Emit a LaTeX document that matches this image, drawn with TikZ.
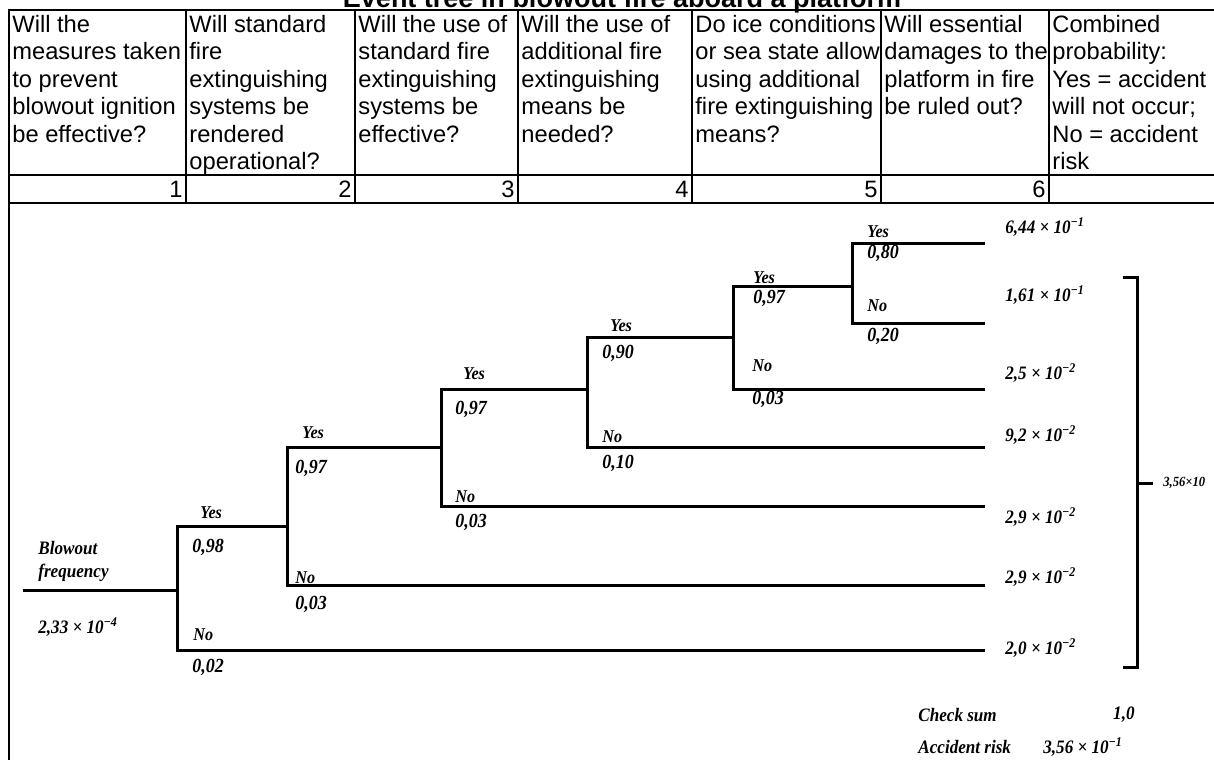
\documentclass[tikz,border=0pt]{standalone}
\usepackage{fontspec}
\setmainfont{Liberation Sans}
\newfontfamily\treefont{Liberation Serif}[FakeStretch=0.9]

\begin{document}
\begin{tikzpicture}[x=0.5pt, y=-0.5pt,
  grid/.style={line width=1pt},
  hdr/.style={anchor=north west, inner sep=0pt, align=left, font=\fontsize{11.85}{13.7}\selectfont},
  num/.style={anchor=base east, inner sep=0pt, font=\fontsize{11.85}{13.7}\selectfont},
  branch/.style={line width=1.5pt},
  ans/.style={anchor=west, inner sep=0pt, font=\treefont\bfseries\itshape\fontsize{9}{10}\selectfont},
  prob/.style={anchor=west, inner sep=0pt, font=\treefont\bfseries\itshape\fontsize{10}{11}\selectfont},
  res/.style={anchor=west, inner sep=0pt, align=left, font=\treefont\bfseries\itshape\fontsize{9.5}{11.5}\selectfont}
]
  \useasboundingbox (0,0) rectangle (1214,760);

  \node[anchor=base, inner sep=0pt, font=\bfseries\fontsize{13.5}{15}\selectfont] (title) at (622,7) {Event tree in blowout fire aboard a platform};

  \draw[grid] (1214,10) -- (9,10) -- (9,760);
  \draw[grid] (9,175) -- (1214,175);
  \draw[grid] (9,203) -- (1214,203);
  \foreach \cx in {186,355,518,692,881,1049}
    \draw[grid] (\cx,10) -- (\cx,203);

  \node[hdr] (q1) at (12,15)   {Will the\\measures taken\\to prevent\\blowout ignition\\be effective?};
  \node[hdr] (q2) at (189,15)  {Will standard\\fire\\extinguishing\\systems be\\rendered\\operational?};
  \node[hdr] (q3) at (358,15)  {Will the use of\\standard fire\\extinguishing\\systems be\\effective?};
  \node[hdr] (q4) at (521,15)  {Will the use of\\additional fire\\extinguishing\\means be\\needed?};
  \node[hdr] (q5) at (695,15)  {Do ice conditions\\or sea state allow\\using additional\\fire extinguishing\\means?};
  \node[hdr] (q6) at (884,15)  {Will essential\\damages to the\\platform in fire\\be ruled out?};
  \node[hdr] (q7) at (1052,15) {Combined\\probability:\\Yes = accident\\will not occur;\\No = accident\\risk};

  \node[num] (c1) at (183,197)  {1};
  \node[num] (c2) at (352,197)  {2};
  \node[num] (c3) at (515,197)  {3};
  \node[num] (c4) at (689,197)  {4};
  \node[num] (c5) at (878,197)  {5};
  \node[num] (c6) at (1046,197) {6};

  \coordinate (root) at (23,590);
  \coordinate (n1) at (177,526); \coordinate (m1) at (177,650);
  \coordinate (n2) at (287,447); \coordinate (m2) at (287,585);
  \coordinate (n3) at (441,389); \coordinate (m3) at (441,506);
  \coordinate (n4) at (587,337); \coordinate (m4) at (587,447);
  \coordinate (n5) at (733,286); \coordinate (m5) at (733,389);
  \coordinate (n6) at (852,243); \coordinate (m6) at (852,323);
  \coordinate (leaf) at (985,0);

  \draw[branch] (root) -- (root -| n1);
  \draw[branch] (n1 -| n2) -- (n1) -- (m1) -- (m1 -| leaf);
  \draw[branch] (n2 -| n3) -- (n2) -- (m2) -- (m2 -| leaf);
  \draw[branch] (n3 -| n4) -- (n3) -- (m3) -- (m3 -| leaf);
  \draw[branch] (n4 -| n5) -- (n4) -- (m4) -- (m4 -| leaf);
  \draw[branch] (n5 -| n6) -- (n5) -- (m5) -- (m5 -| leaf);
  \draw[branch] (n6 -| leaf) -- (n6) -- (m6) -- (m6 -| leaf);

  \node[res] (bf) at (38,561) {Blowout\\frequency};
  \node[res] (bv) at (38,627) {2,33 × 10\textsuperscript{−4}};

  \node[ans]  (y1) at (200,513) {Yes};
  \node[prob] (p1) at (192,547) {0,98};
  \node[ans]  (x1) at (193,635) {No};
  \node[prob] (r1) at (192,667) {0,02};

  \node[ans]  (y2) at (302,433) {Yes};
  \node[prob] (p2) at (295,468) {0,97};
  \node[ans]  (x2) at (295,578) {No};
  \node[prob] (r2) at (295,604) {0,03};

  \node[ans]  (y3) at (463,374) {Yes};
  \node[prob] (p3) at (455,409) {0,97};
  \node[ans]  (x3) at (455,497) {No};
  \node[prob] (r3) at (455,522) {0,03};

  \node[ans]  (y4) at (610,326) {Yes};
  \node[prob] (p4) at (602,353) {0,90};
  \node[ans]  (x4) at (602,437) {No};
  \node[prob] (r4) at (602,463) {0,10};

  \node[ans]  (y5) at (753,278) {Yes};
  \node[prob] (p5) at (753,298) {0,97};
  \node[ans]  (x5) at (752,366) {No};
  \node[prob] (r5) at (752,399) {0,03};

  \node[ans]  (y6) at (867,232) {Yes};
  \node[prob] (p6) at (867,253) {0,80};
  \node[ans]  (x6) at (867,306) {No};
  \node[prob] (r6) at (867,336) {0,20};

  \node[res] (o1) at (1005,227) {6,44 × 10\textsuperscript{−1}};
  \node[res] (o2) at (1005,295) {1,61 × 10\textsuperscript{−1}};
  \node[res] (o3) at (1005,373) {2,5 × 10\textsuperscript{−2}};
  \node[res] (o4) at (1005,435) {9,2 × 10\textsuperscript{−2}};
  \node[res] (o5) at (1005,517) {2,9 × 10\textsuperscript{−2}};
  \node[res] (o6) at (1005,577) {2,9 × 10\textsuperscript{−2}};
  \node[res] (o7) at (1005,648) {2,0 × 10\textsuperscript{−2}};

  \coordinate (bt) at (1123,277);
  \coordinate (bb) at (1123,667);
  \coordinate (bx) at (1137,0);
  \coordinate (bm) at (1137,483);
  \coordinate (bk) at (1153,483);
  \draw[branch] (bt) -- (bt -| bx) -- (bb -| bx) -- (bb);
  \draw[branch] (bm) -- (bk);
  \node[anchor=west, inner sep=0pt, font=\treefont\bfseries\itshape\fontsize{7}{8}\selectfont] (risk) at (1163,483) {3,56×10};

  \node[res] (cs) at (918,715) {Check sum};
  \node[res, anchor=east] (csv) at (1135,715) {1,0};
  \node[res] (ar) at (918,747) {Accident risk};
  \node[res] (arv) at (1043,747) {3,56 × 10\textsuperscript{−1}};
\end{tikzpicture}
\end{document}
